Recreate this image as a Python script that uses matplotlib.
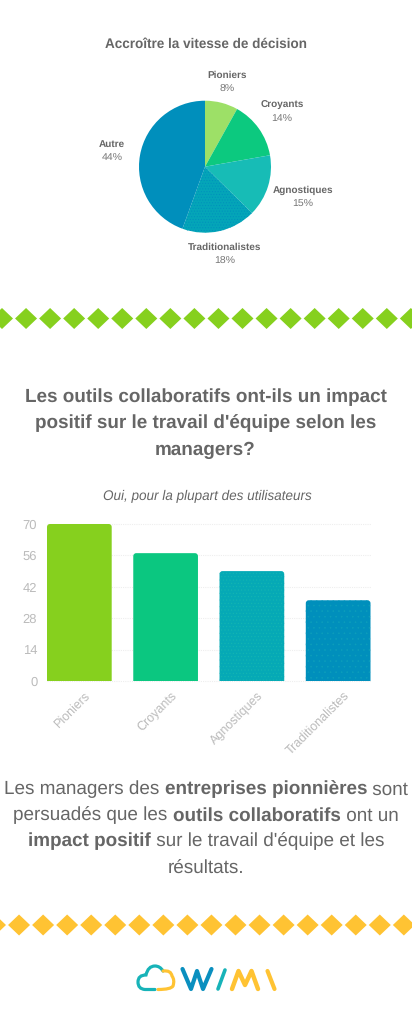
import matplotlib
matplotlib.use("Agg")
import matplotlib.pyplot as plt
from matplotlib.path import Path
from matplotlib.patches import PathPatch, Polygon
from matplotlib.transforms import ScaledTranslation

plt.rcParams['font.family'] = ['Liberation Sans', 'DejaVu Sans']
plt.rcParams['hatch.linewidth'] = 0.4
plt.rcParams['text.hinting'] = 'no_hinting'
plt.rcParams['text.hinting_factor'] = 8

W, H = 412, 1030
GREY = '#666666'

pie_title = "Accroître la vitesse de décision"
pie_labels = ['Pioniers', 'Croyants', 'Agnostiques', 'Traditionalistes', 'Autre']
pie_values = [8, 14, 15, 18, 44]
pie_colors = ['#9DE067', '#0CC97F', '#17BCB6', '#04A5B8', '#008FBC']
pie_hatch = [None, None, None, '......', None]
pie_hatch_color = ['#9DE067', '#0CC97F', '#17BCB6', '#0090BC', '#008FBC']

bar_labels = ['Pioniers', 'Croyants', 'Agnostiques', 'Traditionalistes']
bar_values = [70, 57, 49, 36]
bar_colors = ['#86D01E', '#0BC780', '#05A9B6', '#008FBC']
bar_hatch = [None, None, '.....', '...']
bar_hatch_color = ['#86D01E', '#0BC780', '#14B6B2', '#0C9EBB']
y_ticks = [0, 14, 28, 42, 56, 70]

heading = ["Les outils collaboratifs ont-ils un impact",
           "positif sur le travail d'équipe selon les",
           "managers?"]
subtitle = "Oui, pour la plupart des utilisateurs"
body = [[("Les managers des ", False), ("entreprises pionnières", True), (" sont", False)],
        [("persuadés que les ", False), ("outils collaboratifs", True), (" ont un", False)],
        [("impact positif", True), (" sur le travail d'équipe et les", False)],
        [("résultats.", False)]]

fig = plt.figure(figsize=(W / 100, H / 100), dpi=100, facecolor='white')


def axes_px(l, t, r, b, **kw):
    return fig.add_axes([l / W, 1 - b / H, (r - l) / W, (b - t) / H], **kw)


px = axes_px(0, 0, W, H)
px.set_xlim(0, W)
px.set_ylim(H, 0)
px.axis('off')


def pxsize(p):
    return p * 0.72


# ---- pie ----
cx, cy, r = 205, 166.7, 66
ax = axes_px(cx - r, cy - r, cx + r, cy + r)
wedges, _ = ax.pie(pie_values, colors=pie_colors, startangle=90, counterclock=False, radius=1,
                   wedgeprops={'linewidth': 0})
for wd, hc, hcol in zip(wedges, pie_hatch, pie_hatch_color):
    if hc:
        wd.set_hatch(hc)
        wd.set_edgecolor(hcol)
ax.set_xlim(-1, 1)
ax.set_ylim(-1, 1)
ax.axis('off')

px.text(206, 44.5, pie_title, ha='center', va='center', fontsize=pxsize(13.5), weight='bold', color=GREY)
label_pos = [(227, 75.5), (282, 105.5), (303, 190.5), (225, 247.5), (112, 144.5)]
for (lx, ly), name, v in zip(label_pos, pie_labels, pie_values):
    px.text(lx, ly, name, ha='center', va='center', fontsize=pxsize(10), weight='bold', color=GREY)
    px.text(lx, ly + 14, f"{v}%", ha='center', va='center', fontsize=pxsize(10.5), color='#777777')

# ---- diamonds ----
for start, yc, col, hw, hh in [(2, 318.5, '#86D01E', 11, 10.5), (-5, 925, '#FFC333', 11, 10.5)]:
    xc = start
    while xc < W + 12:
        px.add_patch(Polygon([(xc - hw, yc), (xc, yc - hh), (xc + hw, yc), (xc, yc + hh)],
                             closed=True, fc=col, ec='none'))
        xc += 24.05

# ---- heading ----
for y, line in zip([397, 423, 450], heading):
    px.text(205.5, y, line, ha='center', va='center', fontsize=pxsize(18.85), weight='bold', color=GREY)
px.text(207, 496.5, subtitle, ha='center', va='center', fontsize=pxsize(13.5), style='italic', color=GREY)

# ---- bars ----
bx = axes_px(47, 524, 370.5, 681)
bx.set_xlim(-0.375, 3.375)
bx.set_ylim(0, 70)
bx.patch.set_alpha(0)
bars = bx.bar(range(len(bar_values)), bar_values, width=0.75, linewidth=0)
sx = 3.75 / 323.5 * 3  # 3 px corner, x units
sy = 70 / 157 * 3      # 3 px corner, y units
for b, col, hc, hcol in zip(bars, bar_colors, bar_hatch, bar_hatch_color):
    x0, y0, w, h = b.get_x(), b.get_y(), b.get_width(), b.get_height()
    b.remove()
    verts = [(x0, y0), (x0, y0 + h - sy), (x0, y0 + h), (x0 + sx, y0 + h),
             (x0 + w - sx, y0 + h), (x0 + w, y0 + h), (x0 + w, y0 + h - sy), (x0 + w, y0), (x0, y0)]
    codes = [Path.MOVETO, Path.LINETO, Path.CURVE3, Path.CURVE3, Path.LINETO,
             Path.CURVE3, Path.CURVE3, Path.LINETO, Path.CLOSEPOLY]
    bx.add_patch(PathPatch(Path(verts, codes), fc=col, ec=hcol, lw=0, hatch=hc, zorder=3, clip_on=False))
for s in bx.spines.values():
    s.set_visible(False)
bx.set_yticks(y_ticks)
bx.grid(axis='y', color='#EEEEEE', linewidth=0.8, linestyle=(0, (1, 1)), zorder=0)
for gl in bx.get_ygridlines():
    gl.set_clip_on(False)
bx.set_axisbelow(True)
bx.set_xticks(range(len(bar_labels)))
bx.set_xticklabels(bar_labels, rotation=45, ha='right', rotation_mode='anchor')
bx.tick_params(axis='both', length=0, labelcolor='#BBBBBB', labelsize=pxsize(12.5))
bx.tick_params(axis='y', labelsize=pxsize(13), pad=7)
bx.tick_params(axis='x', pad=6)
offs = ScaledTranslation(5 / 100, 0, fig.dpi_scale_trans)
for t in bx.get_xticklabels():
    t.set_transform(t.get_transform() + offs)

# ---- paragraph ----
fig.canvas.draw()
rend = fig.canvas.get_renderer()
fs = pxsize(18.85)
for y, runs in zip([789.5, 815.5, 841.5, 868.5], body):
    widths = []
    for s, bold in runs:
        t = px.text(0, 0, s.replace(' ', '\u00a0'), fontsize=fs, weight='bold' if bold else 'normal')
        widths.append(t.get_window_extent(rend).width)
        t.remove()
    x = 206 - sum(widths) / 2
    for (s, bold), w in zip(runs, widths):
        px.text(x, y, s.replace(' ', '\u00a0'), fontsize=fs, weight='bold' if bold else 'normal',
                color=GREY, va='center', ha='left')
        x += w

# ---- logo ----
TEAL, BLUE, YEL = '#17B3B8', '#0A8FBF', '#FFC333'
C3 = Path.CURVE3
cloud_left = Path([(155, 989.5), (145, 989.5), (138, 989), (138, 982), (138, 975), (146, 975),
                   (148, 966), (155, 966), (160, 966), (163, 971)],
                  [Path.MOVETO, Path.LINETO, C3, C3, C3, C3, C3, C3, C3, C3])
px.add_patch(PathPatch(cloud_left, fc='none', ec=TEAL, lw=2.3, capstyle='round'))
cloud_right = Path([(163, 971), (171, 970), (172, 976), (175, 980), (173, 986), (171, 989.5), (158, 989.5)],
                   [Path.MOVETO, C3, C3, C3, C3, C3, C3])
px.add_patch(PathPatch(cloud_right, fc='none', ec=YEL, lw=2.3, capstyle='round'))
px.plot([182.5, 191, 197, 203, 211.5], [969, 989, 971, 989, 969], color=BLUE, lw=3, solid_capstyle='round', solid_joinstyle='round')
px.plot([218, 225], [989, 970], color=TEAL, lw=2.6, solid_capstyle='round')
px.plot([232, 238.5, 245, 251.5, 258], [989, 971, 985, 971, 989], color=YEL, lw=3.2, solid_capstyle='round', solid_joinstyle='round')
px.plot([267.5, 274.5], [971, 989], color=YEL, lw=3, solid_capstyle='round')

fig.savefig('out.png', dpi=100, facecolor='white')
